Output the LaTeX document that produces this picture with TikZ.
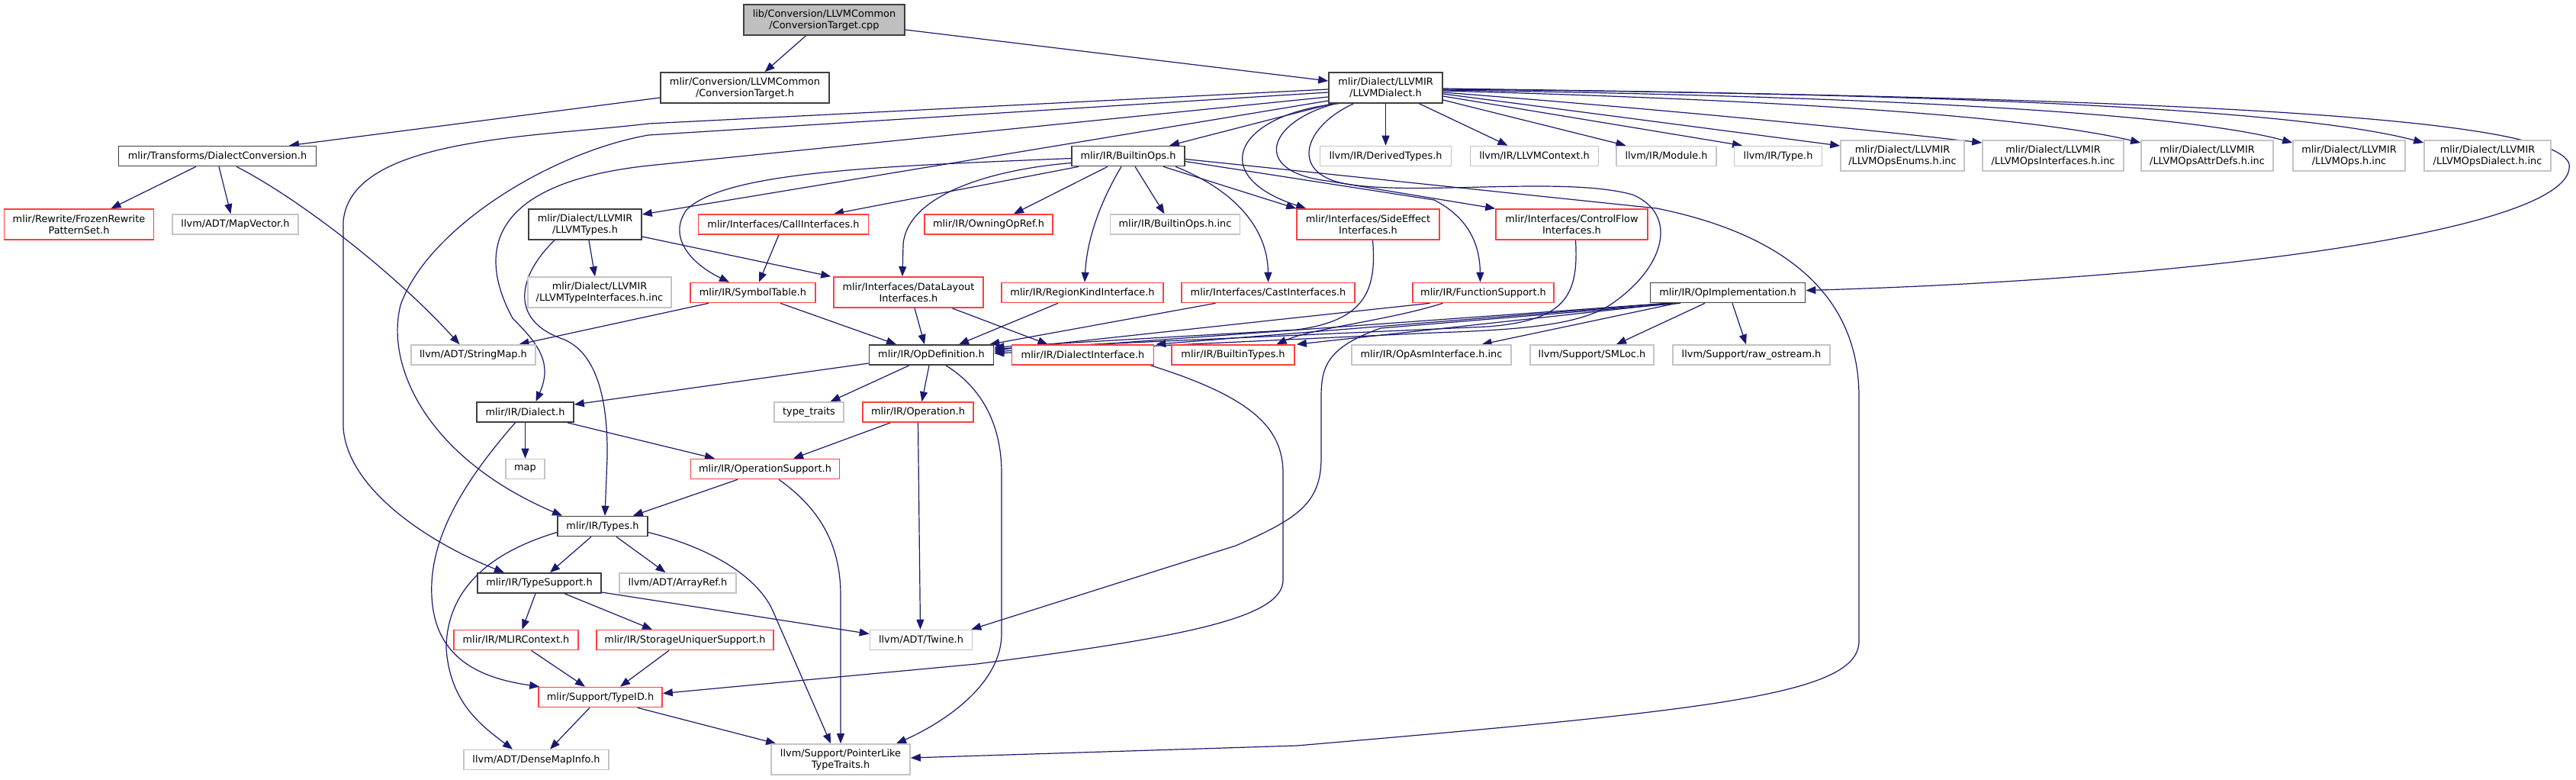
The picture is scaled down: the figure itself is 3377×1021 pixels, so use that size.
\documentclass[tikz,border=0pt]{standalone}
\usepackage{fontspec}
\setmainfont{DejaVu Sans}
\usetikzlibrary{arrows.meta,calc}
\pgfdeclarelayer{back}
\pgfdeclarelayer{edges}
\pgfsetlayers{back,edges,main}
\definecolor{edgec}{HTML}{191970}
\definecolor{bkc}{HTML}{3F3F3F}
\definecolor{rdc}{HTML}{FF3F3F}
\definecolor{gyc}{HTML}{C4C4C4}
\definecolor{rootfill}{HTML}{BFBFBF}
\newcommand{\nodefont}{\fontsize{12.9pt}{15pt}\selectfont}
\begin{document}
\begin{tikzpicture}[x=1pt,y=-1pt,
  box/.style={draw, line width=1.6pt, inner sep=0pt, align=center, font=\nodefont, fill=white},
  bk/.style={box, draw=bkc},
  rd/.style={box, draw=rdc},
  gy/.style={box, draw=gyc},
  rt/.style={box, draw=bkc, fill=rootfill},
  one/.style={minimum height=26pt},
  two/.style={minimum height=40pt},
  edg/.style={draw=edgec, line width=1.2pt, -{Triangle[length=13pt,width=10pt]}},
]
\begin{pgfonlayer}{back}
\fill[white] (0,0) rectangle (3377,1021);
\end{pgfonlayer}
\useasboundingbox (0,0) rectangle (3377,1021);

% ---------- nodes ----------
\node[rt,two,minimum width=211pt] (cpp) at (1080.5,26) {lib/Conversion/LLVMCommon\\/ConversionTarget.cpp};
\node[bk,two,minimum width=221pt] (cth) at (976.5,115) {mlir/Conversion/LLVMCommon\\/ConversionTarget.h};
\node[bk,two,minimum width=149pt] (dial) at (1816.5,115) {mlir/Dialect/LLVMIR\\/LLVMDialect.h};
\node[bk,one,minimum width=259pt] (dconv) at (285,204.5) {mlir/Transforms/DialectConversion.h};
\node[bk,one,minimum width=148pt] (bops) at (1479,204.5) {mlir/IR/BuiltinOps.h};
\node[gy,one,minimum width=172pt] (derived) at (1816.5,204.5) {llvm/IR/DerivedTypes.h};
\node[gy,one,minimum width=168pt] (llvmctx) at (2011.5,204.5) {llvm/IR/LLVMContext.h};
\node[gy,one,minimum width=131pt] (module) at (2184.5,204.5) {llvm/IR/Module.h};
\node[gy,one,minimum width=115pt] (irtype) at (2331,204.5) {llvm/IR/Type.h};
\node[gy,two,minimum width=162pt] (enums) at (2494,204) {mlir/Dialect/LLVMIR\\/LLVMOpsEnums.h.inc};
\node[gy,two,minimum width=185pt] (ifaces) at (2691.5,204) {mlir/Dialect/LLVMIR\\/LLVMOpsInterfaces.h.inc};
\node[gy,two,minimum width=173pt] (attr) at (2893.5,204) {mlir/Dialect/LLVMIR\\/LLVMOpsAttrDefs.h.inc};
\node[gy,two,minimum width=147pt] (opsinc) at (3079.5,204) {mlir/Dialect/LLVMIR\\/LLVMOps.h.inc};
\node[gy,two,minimum width=166pt] (opsdial) at (3261,204) {mlir/Dialect/LLVMIR\\/LLVMOpsDialect.h.inc};

\node[rd,two,minimum width=196pt] (frozen) at (103.5,294) {mlir/Rewrite/FrozenRewrite\\PatternSet.h};
\node[gy,one,minimum width=165pt] (mapvec) at (308.5,294) {llvm/ADT/MapVector.h};
\node[bk,two,minimum width=148pt] (ltypes) at (767,294) {mlir/Dialect/LLVMIR\\/LLVMTypes.h};
\node[rd,one,minimum width=223pt] (callif) at (1027,294) {mlir/Interfaces/CallInterfaces.h};
\node[rd,one,minimum width=168pt] (owning) at (1296,294) {mlir/IR/OwningOpRef.h};
\node[gy,one,minimum width=170pt] (bopsinc) at (1540.5,294) {mlir/IR/BuiltinOps.h.inc};
\node[rd,two,minimum width=187pt] (side) at (1793.5,294) {mlir/Interfaces/SideEffect\\Interfaces.h};
\node[rd,two,minimum width=199pt] (cflow) at (2060.5,294) {mlir/Interfaces/ControlFlow\\Interfaces.h};

\node[gy,two,minimum width=188pt] (ltiinc) at (786,383) {mlir/Dialect/LLVMIR\\/LLVMTypeInterfaces.h.inc};
\node[rd,one,minimum width=164pt] (symtab) at (987,383.5) {mlir/IR/SymbolTable.h};
\node[rd,two,minimum width=196pt] (dlayout) at (1191,383) {mlir/Interfaces/DataLayout\\Interfaces.h};
\node[rd,one,minimum width=212pt] (region) at (1419,383.5) {mlir/IR/RegionKindInterface.h};
\node[rd,one,minimum width=227pt] (cast) at (1662.5,383.5) {mlir/Interfaces/CastInterfaces.h};
\node[rd,one,minimum width=185pt] (funcsup) at (1944.5,383.5) {mlir/IR/FunctionSupport.h};
\node[bk,one,minimum width=203pt] (opimpl) at (2265,383.5) {mlir/IR/OpImplementation.h};

\node[gy,one,minimum width=163pt] (strmap) at (620.5,465) {llvm/ADT/StringMap.h};
\node[bk,one,minimum width=163pt] (opdef) at (1221,465) {mlir/IR/OpDefinition.h};
\node[rd,one,minimum width=186pt] (dialif) at (1419.5,465) {mlir/IR/DialectInterface.h};
\node[rd,one,minimum width=161pt] (btypes) at (1616.5,465) {mlir/IR/BuiltinTypes.h};
\node[gy,one,minimum width=209pt] (opasm) at (1876.5,465) {mlir/IR/OpAsmInterface.h.inc};
\node[gy,one,minimum width=162pt] (smloc) at (2087,465) {llvm/Support/SMLoc.h};
\node[gy,one,minimum width=206pt] (rawos) at (2296,465) {llvm/Support/raw\_ostream.h};

\node[bk,one,minimum width=127pt] (dialecth) at (688.5,540) {mlir/IR/Dialect.h};
\node[gy,one,minimum width=91pt] (ttraits) at (1060.5,540) {type\_traits};
\node[rd,one,minimum width=145pt] (operation) at (1203.5,540) {mlir/IR/Operation.h};
\node[gy,one,minimum width=51pt] (stdmap) at (688.5,614.5) {map};
\node[rd,one,minimum width=195pt] (opsupp) at (1003,614.5) {mlir/IR/OperationSupport.h};
\node[bk,one,minimum width=118pt] (types) at (790,689.5) {mlir/IR/Types.h};
\node[bk,one,minimum width=162pt] (tsupp) at (707,764) {mlir/IR/TypeSupport.h};
\node[gy,one,minimum width=153pt] (arrayref) at (888.5,764) {llvm/ADT/ArrayRef.h};
\node[rd,one,minimum width=163pt] (mlirctx) at (676.5,838.5) {mlir/IR/MLIRContext.h};
\node[rd,one,minimum width=232pt] (storage) at (898,838.5) {mlir/IR/StorageUniquerSupport.h};
\node[gy,one,minimum width=134pt] (twine) at (1207.5,838.5) {llvm/ADT/Twine.h};
\node[rd,one,minimum width=162pt] (typeid) at (787,913.5) {mlir/Support/TypeID.h};
\node[gy,one,minimum width=190pt] (dense) at (703,995.5) {llvm/ADT/DenseMapInfo.h};
\node[gy,two,minimum width=182pt] (ptrlike) at (1102,995) {llvm/Support/PointerLike\\TypeTraits.h};

% ---------- edges ----------
\begin{pgfonlayer}{edges}
\draw[edg] ($(cpp.south)+(-24,0)$) -- ($(cth.north)+(26,0)$);
\draw[edg] ($(cpp.east)+(0,13)$) -- ($(dial.west)+(0,-9)$);
\draw[edg] ($(cth.west)+(0,13)$) -- ($(dconv.north)+(94,0)$);
\draw[edg] ($(dconv.south)+(-28,0)$) -- ($(frozen.north)+(42,0)$);
\draw[edg] ($(dconv.south)+(2,0)$) -- ($(mapvec.north)+(-6,0)$);
\draw[edg] ($(dconv.south)+(25,0)$) .. controls (395,262) and (520,360) .. ($(strmap.north)+(-18,0)$);

% LLVMDialect, right side
\draw[edg] (dial.south) -- (derived.north);
\draw[edg] ($(dial.south)+(44,0)$) -- ($(llvmctx.north)+(-35,0)$);
\draw[edg] ($(dial.east)+(0,16)$) -- ($(module.north)+(-53,0)$);
\draw[edg] ($(dial.east)+(0,11)$) -- ($(irtype.north)+(-47,0)$);
\draw[edg] ($(dial.east)+(0,8)$) -- ($(enums.west)+(0,-13)$);
\draw[edg] ($(dial.east)+(0,6)$) .. controls (2200,145) and (2450,170) .. ($(ifaces.west)+(0,-17)$);
\draw[edg] ($(dial.east)+(0,4)$) .. controls (2300,130) and (2650,150) .. ($(attr.west)+(0,-17)$);
\draw[edg] ($(dial.east)+(0,3)$) .. controls (2400,125) and (2850,145) .. ($(opsinc.west)+(0,-17)$);
\draw[edg] ($(dial.east)+(0,2)$) .. controls (2500,122) and (3000,140) .. ($(opsdial.west)+(0,-17)$);
\draw[edg] ($(dial.east)+(0,1)$) .. controls (2800,128) and (3350,150) .. (3368,215) .. controls (3380,300) and (2900,365) .. ($(opimpl.east)+(0,-3)$);

% LLVMDialect, left side
\draw[edg] ($(dial.south)+(-70,0)$) -- ($(bops.north)+(54,0)$);
\draw[edg] ($(dial.west)+(0,17)$) -- ($(ltypes.east)+(0,-13)$);
\draw[edg] ($(dial.west)+(0,2)$) -- (850,162) .. controls (700,180) and (460,180) .. (450,290) -- (450,560) .. controls (455,640) and (560,710) .. ($(tsupp.north)+(-46,0)$);
\draw[edg] ($(dial.west)+(0,6)$) -- (850,177) .. controls (720,200) and (560,300) .. (525,400) .. controls (505,480) and (560,600) .. ($(types.north)+(-53,0)$);
\draw[edg] ($(dial.west)+(0,12)$) -- (850,217) .. controls (640,240) and (625,330) .. (672,417) .. controls (705,450) and (725,475) .. ($(dialecth.north)+(14,0)$);
\draw[edg] ($(dial.south)+(-62,0)$) .. controls (1620,150) and (1580,230) .. ($(side.north west)+(13,0)$);
\draw[edg] ($(dial.south)+(-66,0)$) .. controls (1660,160) and (1640,225) .. (1740,237) -- (cflow.north west);
\draw[edg] ($(dial.south)+(-42,0)$) .. controls (1710,165) and (1690,225) .. (1760,240) .. controls (1850,258) and (2050,230) .. (2140,255) .. controls (2200,280) and (2185,350) .. (2110,400) .. controls (2070,425) and (2000,432) .. (1880,436) -- ($(opdef.east)+(0,-2)$);

% BuiltinOps
\draw[edg] ($(bops.south)+(46,0)$) -- (side.north west);
\draw[edg] ($(bops.east)+(0,4)$) -- (2172,273) .. controls (2330,305) and (2437,380) .. (2437,520) -- (2437,840) .. controls (2437,910) and (2250,930) .. (1700,977) -- ($(ptrlike.east)+(0,-2)$);
\draw[edg] ($(bops.east)+(0,7)$) -- (1880,262) .. controls (1925,285) and (1940,320) .. ($(funcsup.north)+(-4,0)$);
\draw[edg] ($(bops.west)+(0,3)$) .. controls (1150,218) and (950,225) .. (900,275) .. controls (875,310) and (905,345) .. ($(symtab.north)+(-31,0)$);
\draw[edg] ($(bops.west)+(0,9)$) .. controls (1300,222) and (1190,255) .. (1184,320) -- ($(dlayout.north)+(-8,0)$);
\draw[edg] ($(bops.south)+(-65,0)$) -- ($(callif.north)+(66,0)$);
\draw[edg] ($(bops.south)+(-27,0)$) -- ($(owning.north)+(33,0)$);
\draw[edg] ($(bops.south)+(9,0)$) -- ($(bopsinc.north)+(-14,0)$);
\draw[edg] ($(bops.south)+(-9,0)$) .. controls (1445,260) and (1425,310) .. ($(region.north)+(3,0)$);
\draw[edg] ($(bops.south)+(62,0)$) .. controls (1620,250) and (1662,300) .. (cast.north);

% level 3
\draw[edg] ($(callif.south)+(-6,0)$) -- ($(symtab.north)+(8,0)$);
\draw[edg] ($(ltypes.south)+(5,0)$) -- ($(ltiinc.north)+(-6,0)$);
\draw[edg] ($(ltypes.east)+(0,16)$) -- ($(dlayout.north west)+(-3,0)$);
\draw[edg] ($(ltypes.south)+(-40,0)$) .. controls (680,360) and (665,420) .. (740,445) .. controls (785,465) and (797,530) .. (796,600) -- ($(types.north)+(3,0)$);

% level 4 into OpDefinition etc.
\draw[edg] ($(symtab.south)+(-58,0)$) -- ($(strmap.north)+(60,0)$);
\draw[edg] ($(symtab.south)+(36,0)$) -- ($(opdef.north)+(-46,0)$);
\draw[edg] ($(dlayout.south)+(8,0)$) -- ($(opdef.north)+(-9,0)$);
\draw[edg] ($(dlayout.south)+(57,0)$) -- ($(dialif.north)+(-46,0)$);
\draw[edg] ($(region.south)+(-32,0)$) -- ($(opdef.north)+(36,0)$);
\draw[edg] ($(cast.south)+(-69,0)$) -- ($(opdef.north east)+(-6,0)$);
\draw[edg] ($(side.south)+(6,0)$) .. controls (1805,380) and (1790,420) .. (1700,432) -- ($(opdef.east)+(0,-10)$);
\draw[edg] ($(cflow.south)+(5,0)$) .. controls (2070,390) and (2050,420) .. (1950,428) -- ($(opdef.east)+(0,-8)$);
\draw[edg] ($(funcsup.south)+(-70,0)$) -- ($(opdef.east)+(0,-6)$);
\draw[edg] ($(funcsup.south)+(-53,0)$) .. controls (1820,420) and (1720,430) .. ($(btypes.north)+(57,0)$);
\draw[edg] ($(opimpl.south)+(-80,0)$) -- ($(opdef.east)+(0,-4)$);
\draw[edg] ($(opimpl.south)+(-76,0)$) -- ($(dialif.north east)+(2,0)$);
\draw[edg] ($(opimpl.south)+(-72,0)$) -- ($(btypes.north east)+(2,0)$);
\draw[edg] ($(opimpl.south)+(-67,0)$) -- ($(opasm.north)+(66,0)$);
\draw[edg] ($(opimpl.south)+(-30,0)$) -- ($(smloc.north)+(32,0)$);
\draw[edg] ($(opimpl.south)+(6,0)$) -- ($(rawos.north)+(-7,0)$);
\draw[edg] ($(opimpl.south)+(-62,0)$) -- (1810,430) .. controls (1740,455) and (1732,480) .. (1732,520) -- (1732,600) .. controls (1732,660) and (1700,680) .. (1620,715) -- ($(twine.north east)+(-2,0)$);

% lower part
\draw[edg] ($(opdef.west)+(0,11)$) -- ($(dialecth.east)+(0,-10)$);
\draw[edg] ($(opdef.south)+(-29,0)$) -- ($(ttraits.north)+(28,0)$);
\draw[edg] ($(opdef.south)+(-3,0)$) -- ($(operation.north)+(5,0)$);
\draw[edg] ($(opdef.south)+(19,0)$) .. controls (1290,510) and (1313,560) .. (1313,620) -- (1313,830) .. controls (1313,900) and (1230,950) .. ($(ptrlike.north)+(73,0)$);
\draw[edg] (dialecth.south) -- (stdmap.north);
\draw[edg] ($(dialecth.south east)+(-9,0)$) -- ($(opsupp.north)+(-66,0)$);
\draw[edg] ($(dialecth.south)+(-13,0)$) .. controls (600,640) and (555,720) .. (568,800) .. controls (580,870) and (640,890) .. ($(typeid.north west)+(2,0)$);
\draw[edg] ($(operation.south)+(-36,0)$) -- ($(opsupp.north)+(37,0)$);
\draw[edg] (operation.south) -- ($(twine.north)+(-1,0)$);
\draw[edg] ($(opsupp.south)+(-36,0)$) -- ($(types.north east)+(-20,0)$);
\draw[edg] ($(opsupp.south)+(18,0)$) .. controls (1080,670) and (1102,720) .. (1102,780) -- (ptrlike.north);
\draw[edg] ($(types.south)+(-15,0)$) -- ($(tsupp.north)+(14,0)$);
\draw[edg] ($(types.south)+(18,0)$) -- ($(arrayref.north)+(-16,0)$);
\draw[edg] ($(types.west)+(0,8)$) .. controls (620,730) and (585,790) .. (585,850) .. controls (590,920) and (630,950) .. ($(dense.north)+(-31,0)$);
\draw[edg] ($(types.east)+(0,8)$) .. controls (940,720) and (995,760) .. (1013,800) -- ($(ptrlike.north)+(-13,0)$);
\draw[edg] ($(tsupp.south)+(-5,0)$) -- ($(mlirctx.north)+(8,0)$);
\draw[edg] ($(tsupp.south)+(33,0)$) -- ($(storage.north)+(-43,0)$);
\draw[edg] ($(tsupp.east)+(0,12)$) -- ($(twine.west)+(0,-8)$);
\draw[edg] ($(mlirctx.south)+(20,0)$) -- ($(typeid.north)+(-20,0)$);
\draw[edg] ($(storage.south)+(-21,0)$) -- ($(typeid.north)+(26,0)$);
\draw[edg] ($(typeid.south)+(-14,0)$) -- ($(dense.north)+(18,0)$);
\draw[edg] ($(typeid.south east)+(-33,0)$) -- ($(ptrlike.north west)+(7,0)$);
\draw[edg] ($(dialif.south east)+(-5,0)$) .. controls (1640,520) and (1682,560) .. (1682,620) -- (1682,760) .. controls (1682,810) and (1550,835) .. (1280,870) -- ($(typeid.east)+(0,-5)$);
\end{pgfonlayer}
\end{tikzpicture}
\end{document}
